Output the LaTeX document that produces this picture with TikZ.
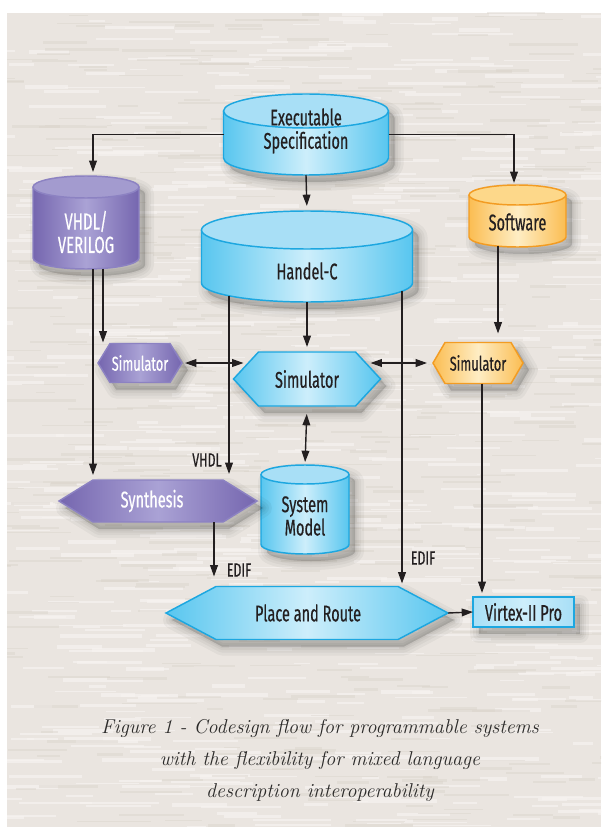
\documentclass[tikz,border=0pt]{standalone}
\usepackage{fontspec}
\usetikzlibrary{arrows.meta,calc}
\newfontfamily\lab[FakeStretch=0.64,FakeBold=0.5]{Fira Sans}

\definecolor{ink}{HTML}{231F20}
\definecolor{bgbase}{HTML}{EAE5E0}
\definecolor{bglight}{HTML}{F7F4F1}
\definecolor{bgdark}{HTML}{D8D1C9}
\definecolor{cyside}{HTML}{58C6EF}
\definecolor{cymid}{HTML}{CDEEFB}
\definecolor{cycap}{HTML}{A8DFF6}
\definecolor{cyline}{HTML}{1DA7E0}
\definecolor{puside}{HTML}{7566AF}
\definecolor{pumid}{HTML}{AAA2D5}
\definecolor{pucap}{HTML}{A39BCF}
\definecolor{puline}{HTML}{8C82C2}
\definecolor{orside}{HTML}{FBBD52}
\definecolor{ormid}{HTML}{FEEDC4}
\definecolor{orcap}{HTML}{FDD88A}
\definecolor{orline}{HTML}{F39C22}
\definecolor{captext}{HTML}{2B2A29}

\tikzset{
  arr/.style={draw=ink, line width=1.05pt, -{Triangle[length=8.5pt,width=5.8pt]}},
  arr2/.style={draw=ink, line width=1.05pt, {Triangle[length=8.5pt,width=5.8pt]}-{Triangle[length=8.5pt,width=5.8pt]}},
  box/.style 2 args={minimum width={(#1)*0.75pt}, minimum height={(#2)*0.75pt}, inner sep=0pt, outer sep=0pt},
  lbl/.style={font=\lab\fontsize{17}{17.5}\selectfont, text=ink, align=center, inner sep=0pt},
  lblw/.style={lbl, text=white, font=\lab\fontsize{17.5}{17.5}\selectfont},
  lbls/.style={lbl, font=\lab\fontsize{15}{15}\selectfont},
  elbl/.style={lbl, font=\lab\fontsize{14.5}{14}\selectfont},
  captionstyle/.style={font=\itshape\fontsize{15}{24}\selectfont, text=captext, align=center, inner sep=0pt}
}

% soft drop shadow below a closed path
\newcommand\softshadow[1]{%
  \foreach \shw in {18,12,7,3}{%
    \filldraw[black, opacity=0.04, line width=\shw*0.75pt, line join=round, shift={(6,7)}] #1;}}

% drum (database cylinder): name, cx, top, bottom, half width, cap radius, palette
\newcommand\drum[7]{%
  \softshadow{(#2-#5,#3+#6) arc[start angle=180,end angle=0,x radius=#5*0.75pt,y radius=#6*0.75pt] -- (#2+#5,#4-#6) arc[start angle=0,end angle=-180,x radius=#5*0.75pt,y radius=#6*0.75pt] -- cycle}
  \shade[left color=#7side, right color=#7side, middle color=#7mid]
    (#2-#5,#3+#6) -- (#2-#5,#4-#6) arc[start angle=180,end angle=360,x radius=#5*0.75pt,y radius=#6*0.75pt] -- (#2+#5,#3+#6) -- cycle;
  \draw[#7line, line width=1.1pt]
    (#2-#5,#3+#6) -- (#2-#5,#4-#6) arc[start angle=180,end angle=360,x radius=#5*0.75pt,y radius=#6*0.75pt] -- (#2+#5,#3+#6);
  \filldraw[fill=#7cap, draw=#7line, line width=1.1pt] (#2,#3+#6) ellipse[x radius=#5*0.75pt,y radius=#6*0.75pt];
  \node[box={2*#5}{#4-#3}] (#1) at (#2,{(#3+#4)/2}) {};
}

% hexagon: name, cx, cy, half width, half height, slant, palette
\newcommand\hexa[7]{%
  \softshadow{(#2-#4,#3) -- (#2-#4+#6,#3-#5) -- (#2+#4-#6,#3-#5) -- (#2+#4,#3) -- (#2+#4-#6,#3+#5) -- (#2-#4+#6,#3+#5) -- cycle}
  \shadedraw[left color=#7side, right color=#7side, middle color=#7mid, draw=#7line, line width=1.1pt]
    (#2-#4,#3) -- (#2-#4+#6,#3-#5) -- (#2+#4-#6,#3-#5) -- (#2+#4,#3) -- (#2+#4-#6,#3+#5) -- (#2-#4+#6,#3+#5) -- cycle;
  \node[box={2*#4}{2*#5}] (#1) at (#2,#3) {};
}

\begin{document}
\begin{tikzpicture}[x=0.75pt,y=-0.75pt]
\useasboundingbox (0,0) rectangle (601,827);
\fill[white] (0,0) rectangle (601,827);

% streaked paper backdrop
\begin{scope}
  \clip (7,13) rectangle (601,827);
  \fill[bgbase] (7,13) rectangle (601,827);
  \pgfmathsetseed{7}
  \foreach \i in {1,...,700}{%
    \pgfmathsetmacro\bgx{rnd*640-20}
    \pgfmathsetmacro\bgy{rnd*820+10}
    \pgfmathsetmacro\bgl{15+rnd*70}
    \pgfmathsetmacro\bgh{1+rnd*3}
    \fill[bglight, opacity=0.65] (\bgx,\bgy) rectangle ++(\bgl,\bgh);}
  \foreach \i in {1,...,500}{%
    \pgfmathsetmacro\bgx{rnd*640-20}
    \pgfmathsetmacro\bgy{rnd*820+10}
    \pgfmathsetmacro\bgl{15+rnd*60}
    \pgfmathsetmacro\bgh{1+rnd*2}
    \fill[bgdark, opacity=0.4] (\bgx,\bgy) rectangle ++(\bgl,\bgh);}
\end{scope}

% shapes
\drum{es}{306}{94}{175}{82.5}{17}{cy}
\drum{hc}{307}{211}{302}{105.5}{19}{cy}
\drum{vhdl}{86}{176}{269}{53}{11}{pu}
\drum{sw}{517.5}{185}{247}{48.5}{10}{or}
\drum{sm}{305}{465}{554}{44}{9.5}{cy}
\hexa{sim}{307}{379}{73.5}{27}{25}{cy}
\hexa{simp}{140}{363}{42}{19.5}{12}{pu}
\hexa{simo}{478}{363}{45}{20.5}{12}{or}
\hexa{syn}{158}{501}{99}{21}{34}{pu}
\hexa{pr}{307}{613}{141}{26.5}{50}{cy}
\softshadow{(473,597) rectangle (574,627)}
\shadedraw[left color=cycap, right color=cycap, middle color=cymid, draw=cyline, line width=1.2pt] (473,597) rectangle (574,627);
\node[box={101}{30}] (vx) at (523.5,612) {};

% labels
\node[lbl] (es-t) at (306,131) {Executable\\Specification};
\node[lbl] (hc-t) at (307,271) {Handel-C};
\node[lblw] (vhdl-t) at (86,232) {VHDL/\\VERILOG};
\node[lbl] (sw-t) at (517.5,222) {Software};
\node[lbl] (sm-t) at (305,516) {System\\Model};
\node[lbl] (sim-t) at (307,379) {Simulator};
\node[lbls, text=white] (simp-t) at (140,363) {Simulator};
\node[lbls] (simo-t) at (478,363) {Simulator};
\node[lbl, text=white] (syn-t) at (152,501) {Synthesis};
\node[lbl] (pr-t) at (308,613) {Place and Route};
\node[lbl] (vx-t) at (523.5,612) {Virtex-II Pro};

% connectors
\draw[arr] (es.west) -| ([shift={(7,-4)}]vhdl.north);
\draw[arr] (es.east) -| ([shift={(-3.5,-2)}]sw.north);
\draw[arr, shorten >=3.75pt] (es.south) -- (hc.north);
\draw[arr, shorten >=3.75pt] ([shift={(7,0)}]vhdl.south) -- ([shift={(7,0)}]vhdl.south |- syn.north);
\draw[arr, shorten >=0.75pt] ([shift={(17,-0.5)}]vhdl.south) -- ([shift={(17,0)}]vhdl.south |- simp.north);
\draw[arr2, shorten <=2.25pt] (simp.east) -- ([shift={(10,0)}]sim.west |- simp.east);
\draw[arr2, shorten >=4.5pt] ([shift={(-10,0)}]sim.east |- simo.west) -- (simo.west);
\draw[arr, shorten >=3.75pt] (hc.south) -- (sim.north);
\draw[arr, shorten >=4.5pt] ([shift={(-78,-6.5)}]hc.south) -- ([shift={(-78,0)}]hc.south |- syn.north);
\node[elbl] (l-vhdl) at (207,460) {VHDL};
\draw[arr, shorten >=2.25pt] ([shift={(95,-11)}]hc.south) -- ([shift={(95,0)}]hc.south |- pr.north);
\node[elbl] (l-edif2) at (423,558) {EDIF};
\draw[arr, shorten >=7.5pt] ([shift={(56,0)}]syn.south) -- ([shift={(56,0)}]syn.south |- pr.north);
\node[elbl] (l-edif1) at (239,570) {EDIF};
\draw[arr2, shorten <=6pt, shorten >=2.25pt] (sim.south) -- (sm.north);
\draw[arr, shorten >=3pt] ([shift={(4,0)}]simo.south) -- ([shift={(4,0)}]simo.south |- vx.north);
\draw[arr, shorten >=6.75pt] ([shift={(-19.5,-1)}]sw.south) -- ([shift={(-19.5,0)}]sw.south |- simo.north);
\draw[arr] (pr.east) -- (vx.west);

% caption
\node[captionstyle] (caption) at (320,760) {Figure 1 - Codesign flow for programmable systems\\with the flexibility for mixed language\\description interoperability};
\end{tikzpicture}
\end{document}
